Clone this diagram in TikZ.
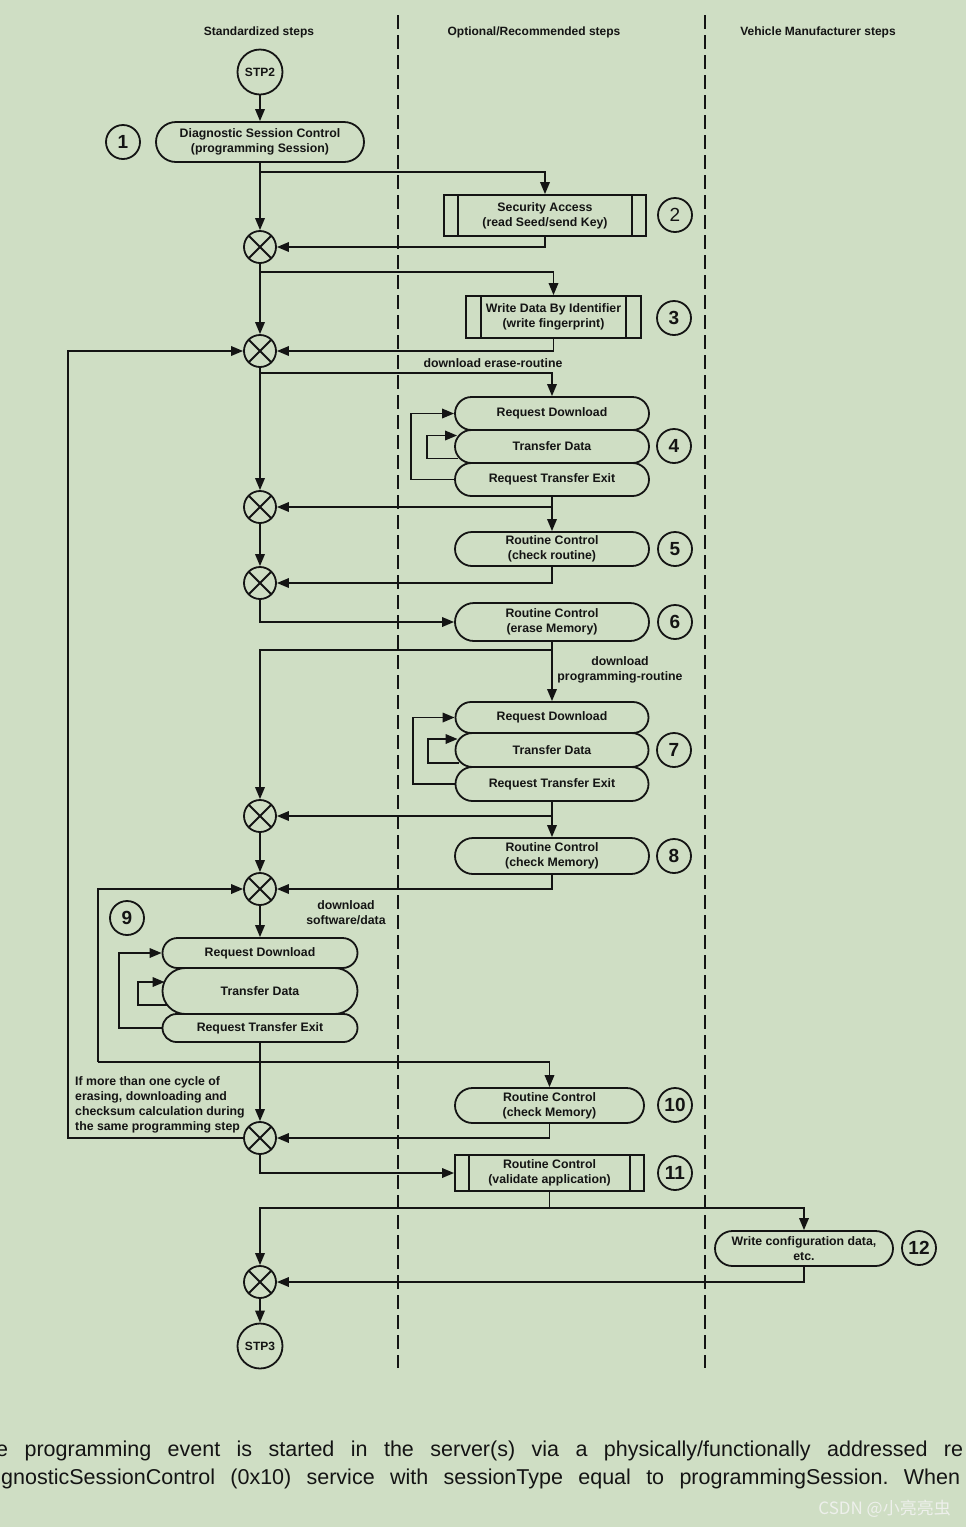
\documentclass[tikz,border=0pt]{standalone}
\usepackage{fontspec}
\setmainfont{Liberation Sans}
\newfontfamily\cjkfont{Noto Sans CJK SC}
\usetikzlibrary{arrows.meta,shapes.misc,calc}
\definecolor{bg}{RGB}{207,222,196}
\definecolor{wm}{RGB}{238,240,236}
\definecolor{ink}{RGB}{20,20,20}
\frenchspacing
\begin{document}
\begin{tikzpicture}[x=1pt,y=-1pt,
  ln/.style={line width=1.8pt, draw=ink},
  arr/.style={ln, -{Triangle[length=12pt,width=9.5pt]}},
  lbl/.style={font=\bfseries\fontsize{12.3}{15}\selectfont, align=center, inner sep=0pt, text=ink},
  pill/.style={draw=ink, line width=1.8pt, rounded rectangle, lbl},
  proc/.style={draw=ink, line width=1.8pt, rectangle, lbl,
    path picture={\draw[ink,line width=1.8pt]
      ([xshift=#1]path picture bounding box.north west) -- ([xshift=#1]path picture bounding box.south west)
      ([xshift=-#1]path picture bounding box.north east) -- ([xshift=-#1]path picture bounding box.south east);}},
  merge/.style={draw=ink, circle, line width=1.8pt, minimum size=32pt, inner sep=0pt,
    path picture={\draw[ink,line width=1.8pt]
      (path picture bounding box.north west) -- (path picture bounding box.south east)
      (path picture bounding box.north east) -- (path picture bounding box.south west);}},
  num/.style={draw=ink, circle, line width=1.8pt, minimum size=34pt, inner sep=0pt, text=ink,
    font=\bfseries\fontsize{19}{19}\selectfont},
  stp/.style={draw=ink, circle, line width=1.8pt, minimum size=45pt, inner sep=0pt, text=ink,
    font=\bfseries\fontsize{12}{12}\selectfont},
  head/.style={font=\bfseries\fontsize{12}{14}\selectfont, text=ink, inner sep=0pt},
  lane/.style={draw=ink, line width=1.5pt, dash pattern=on 14pt off 6pt}
]
\fill[bg] (0,0) rectangle (966,1527);
\useasboundingbox (0,0) rectangle (966,1527);

% lanes
\coordinate (la1) at (398,15); \coordinate (lb1) at (398,1368);
\coordinate (la2) at (705,15); \coordinate (lb2) at (705,1368);
\draw[lane] (la1) -- (lb1);
\draw[lane] (la2) -- (lb2);

\node[head] (h1) at (259,32) {Standardized steps};
\node[head] (h2) at (534,32) {Optional/Recommended steps};
\node[head] (h3) at (818,32) {Vehicle Manufacturer steps};

% nodes
\node[stp] (stp2) at (260,72) {STP2};
\node[pill, minimum width=208pt, minimum height=40pt] (s1) at (260,142) {Diagnostic Session Control\\(programming Session)};
\node[num] (n1) at (123,142) {1};
\node[proc=14pt, minimum width=202pt, minimum height=41pt] (s2) at (545,215.5) {Security Access\\(read Seed/send Key)};
\node[num, font=\fontsize{19}{19}\selectfont] (n2) at (675,215) {2};
\node[merge] (m1) at (260,247) {};
\node[proc=15pt, minimum width=175pt, minimum height=42pt] (s3) at (553.5,317) {Write Data By Identifier\\(write fingerprint)};
\node[num] (n3) at (674,318) {3};
\node[merge] (m2) at (260,351) {};
\node[pill, minimum width=194pt, minimum height=33pt] (rd4) at (552,413.5) {Request Download};
\node[pill, minimum width=194pt, minimum height=33pt] (td4) at (552,446.5) {Transfer Data};
\node[pill, minimum width=194pt, minimum height=33pt] (rte4) at (552,479.5) {Request Transfer Exit};
\node[num] (n4) at (674,446) {4};
\node[merge] (m3) at (260,507) {};
\node[pill, minimum width=194pt, minimum height=34pt] (s5) at (552,549) {Routine Control\\(check routine)};
\node[num] (n5) at (675,549) {5};
\node[merge] (m4) at (260,583) {};
\node[pill, minimum width=194pt, minimum height=38pt] (s6) at (552,622) {Routine Control\\(erase Memory)};
\node[num] (n6) at (675,622) {6};
\node[pill, minimum width=193pt, minimum height=31pt] (rd7) at (552,717.5) {Request Download};
\node[pill, minimum width=193pt, minimum height=34pt] (td7) at (552,750) {Transfer Data};
\node[pill, minimum width=193pt, minimum height=34pt] (rte7) at (552,784) {Request Transfer Exit};
\node[num] (n7) at (674,750) {7};
\node[merge] (m5) at (260,816) {};
\node[pill, minimum width=194pt, minimum height=36pt] (s8) at (552,856) {Routine Control\\(check Memory)};
\node[num] (n8) at (674,856) {8};
\node[merge] (m6) at (260,889) {};
\node[num] (n9) at (127,918) {9};
\node[pill, minimum width=195pt, minimum height=30pt] (rd9) at (260,953) {Request Download};
\node[pill, minimum width=195pt, minimum height=46pt] (td9) at (260,991) {Transfer Data};
\node[pill, minimum width=195pt, minimum height=28pt] (rte9) at (260,1028) {Request Transfer Exit};
\node[pill, minimum width=189pt, minimum height=35pt] (s10) at (549.5,1105.5) {Routine Control\\(check Memory)};
\node[num] (n10) at (675,1105) {10};
\node[merge] (m7) at (260,1138) {};
\node[proc=14pt, minimum width=189pt, minimum height=36pt] (s11) at (549.5,1173) {Routine Control\\(validate application)};
\node[num] (n11) at (675,1173) {11};
\node[pill, minimum width=178pt, minimum height=35pt] (s12) at (804,1248.5) {Write configuration data,\\etc.};
\node[num] (n12) at (919,1248) {12};
\node[merge] (m8) at (260,1282) {};
\node[stp] (stp3) at (260,1346) {STP3};

% labels
\node[lbl] (t1) at (493,363) {download erase-routine};
\node[lbl] (t2) at (620,670) {download\\programming-routine};
\node[lbl] (t3) at (346,913) {download\\software/data};
\node[lbl, align=left, anchor=north west] (note) at (75,1076) {If more than one cycle of\\erasing, downloading and\\checksum calculation during\\the same programming step};

% branch points
\coordinate (b1) at (260,172);
\coordinate (b2) at (260,272);
\coordinate (b3) at (260,373);
\coordinate (b4) at (552,507);
\coordinate (b5) at (552,650);
\coordinate (b6) at (552,816);
\coordinate (b7) at (98,1062);
\coordinate (b8) at (549.5,1208);
\coordinate (L1) at (68,1138);

% connectors
\draw[arr] (stp2) -- (s1);
\draw[arr] (s1.south) -- (m1.north);
\draw[arr] (b1) -| (s2.north);
\draw[arr] (s2.south) |- (m1.east);
\draw[arr] (m1.south) -- (m2.north);
\draw[arr] (b2) -| (s3.north);
\draw[arr] (s3.south) |- (m2.east);
\draw[arr] (m7.west) -- (L1) |- (m2.west);
\draw[arr] (b3) -| (rd4.north);
\draw[arr] (m2.south) -- (m3.north);
\draw[arr] (rte4.west) -- ++(-43,0) |- (rd4.west);
\draw[arr] ($(td4.west)+(4,12)$) -- ++(-31,0) |- ($(td4.west)+(3,-11)$);
\draw[ln] (rte4.south) -- (b4);
\draw[arr] (b4) -- (m3.east);
\draw[arr] (b4) -- (s5.north);
\draw[arr] (s5.south) |- (m4.east);
\draw[arr] (m3.south) -- (m4.north);
\draw[arr] (m4.south) |- (s6.west);
\draw[arr] (s6.south) -- (rd7.north);
\draw[arr] (b5) -| (m5.north);
\draw[arr] (rte7.west) -- ++(-42,0) |- (rd7.west);
\draw[arr] ($(td7.west)+(4,13)$) -- ++(-31,0) |- ($(td7.west)+(3,-11)$);
\draw[arr] (rte7.south) -- (s8.north);
\draw[arr] (b6) -- (m5.east);
\draw[arr] (s8.south) |- (m6.east);
\draw[arr] (m5.south) -- (m6.north);
\draw[arr] (m6.south) -- (rd9.north);
\draw[arr] (rte9.west) -- ++(-43,0) |- (rd9.west);
\draw[arr] ($(td9.west)+(5,14)$) -- ++(-29,0) |- ($(td9.west)+(3,-9)$);
\draw[arr] (rte9.south) -- (m7.north);
\draw[arr] (b7) |- (m6.west);
\draw[arr] (b7) -| (s10.north);
\draw[arr] (s10.south) |- (m7.east);
\draw[arr] (m7.south) |- (s11.west);
\draw[ln] (s11.south) -- (b8);
\draw[arr] (b8) -| (m8.north);
\draw[arr] (b8) -| (s12.north);
\draw[arr] (s12.south) |- (m8.east);
\draw[arr] (m8.south) -- (stp3.north);

% body text below the figure
\begin{scope}
\clip (0,1420) rectangle (966,1527);
\node[anchor=base west, inner sep=0pt, text=ink, font=\fontsize{21.5}{26}\selectfont] (body1) at (-4,1456)
  {\makebox[967pt][s]{e programming event is started in the server(s) via a physically/functionally addressed re}};
\node[anchor=base west, inner sep=0pt, text=ink, font=\fontsize{21.5}{26}\selectfont] (body2) at (1,1484)
  {\makebox[959pt][s]{gnosticSessionControl (0x10) service with sessionType equal to programmingSession. When}};
\end{scope}
\node[anchor=east, inner sep=0pt, text=wm, font=\cjkfont\fontsize{17}{17}\selectfont] (wmk) at (951,1509) {CSDN @小亮亮虫};
\end{tikzpicture}
\end{document}
